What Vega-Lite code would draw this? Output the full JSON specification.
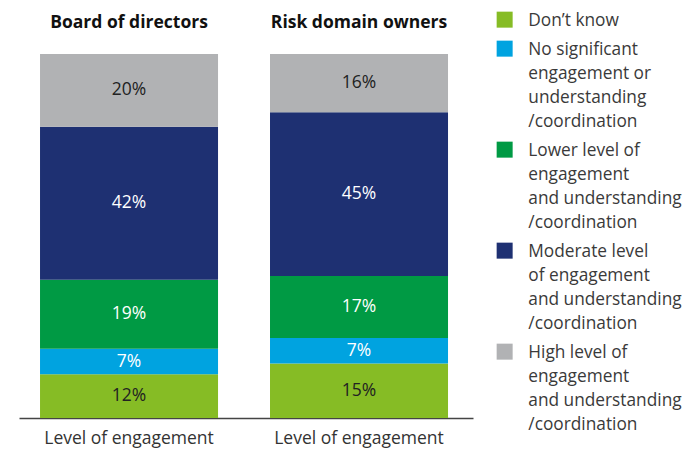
{
  "$schema": "https://vega.github.io/schema/vega-lite/v6.json",
  "width": 454,
  "height": 364,
  "autosize": {"type": "none"},
  "padding": {"left": 19, "top": 54, "right": 214, "bottom": 32},
  "background": "white",
  "config": {
    "view": {"stroke": null},
    "font": "Open Sans",
    "text": {"font": "Open Sans"}
  },
  "data": {
    "values": [
      {"panel": "Board of directors", "category": "Don’t know", "rank": 1, "value": 12},
      {"panel": "Board of directors", "category": "No significant|engagement or|understanding|/coordination", "rank": 2, "value": 7},
      {"panel": "Board of directors", "category": "Lower level of|engagement|and understanding|/coordination", "rank": 3, "value": 19},
      {"panel": "Board of directors", "category": "Moderate level|of engagement|and understanding|/coordination", "rank": 4, "value": 42},
      {"panel": "Board of directors", "category": "High level of|engagement|and understanding|/coordination", "rank": 5, "value": 20},
      {"panel": "Risk domain owners", "category": "Don’t know", "rank": 1, "value": 15},
      {"panel": "Risk domain owners", "category": "No significant|engagement or|understanding|/coordination", "rank": 2, "value": 7},
      {"panel": "Risk domain owners", "category": "Lower level of|engagement|and understanding|/coordination", "rank": 3, "value": 17},
      {"panel": "Risk domain owners", "category": "Moderate level|of engagement|and understanding|/coordination", "rank": 4, "value": 45},
      {"panel": "Risk domain owners", "category": "High level of|engagement|and understanding|/coordination", "rank": 5, "value": 16}
    ]
  },
  "resolve": {"axis": {"x": "independent"}},
  "layer": [
    {
      "mark": {"type": "bar"},
      "encoding": {
        "x": {
          "field": "panel", "type": "nominal",
          "scale": {"domain": ["Board of directors", "Risk domain owners"], "paddingInner": 0.226, "paddingOuter": 0.1, "align": 0.457},
          "axis": {"orient": "top", "title": null, "domain": false, "ticks": false, "tickSize": 0, "labelAngle": 0, "labelPadding": 23, "labelFont": "Open Sans", "labelFontWeight": "bold", "labelFontSize": 17.5, "labelColor": "#111111"}
        },
        "y": {
          "field": "value", "type": "quantitative", "stack": "zero",
          "scale": {"domain": [0, 100], "nice": false},
          "axis": null
        },
        "order": {"field": "rank", "type": "quantitative"},
        "color": {
          "field": "category", "type": "nominal",
          "scale": {
            "domain": ["Don’t know", "No significant|engagement or|understanding|/coordination", "Lower level of|engagement|and understanding|/coordination", "Moderate level|of engagement|and understanding|/coordination", "High level of|engagement|and understanding|/coordination"],
            "range": ["#86bc25", "#00a3e0", "#009a44", "#1e3072", "#b1b2b4"]
          },
          "legend": {
            "orient": "none",
            "legendX": 477,
            "legendY": -43,
            "title": null,
            "padding": 0,
            "symbolType": "square",
            "symbolSize": 256,
            "symbolStrokeWidth": 0,
            "labelOffset": 15,
            "labelFont": "Open Sans",
            "labelFontSize": 17.3,
            "labelColor": "#3a3a3a",
            "labelLimit": 300,
            "labelBaseline": "top",
            "rowPadding": 10,
            "labelExpr": "split(datum.label, '|')",
            "encode": {
              "labels": {"update": {"dy": {"value": -7.8}, "lineHeight": {"value": 24}}}
            }
          }
        }
      }
    },
    {
      "transform": [
        {"window": [{"op": "sum", "field": "value", "as": "cum"}], "groupby": ["panel"], "sort": [{"field": "rank", "order": "ascending"}], "frame": [null, 0]},
        {"calculate": "datum.cum - datum.value / 2", "as": "mid"},
        {"calculate": "datum.value + '%'", "as": "label"}
      ],
      "mark": {"type": "text", "font": "Open Sans", "fontSize": 17.5, "baseline": "middle", "align": "center"},
      "encoding": {
        "x": {
          "field": "panel", "type": "nominal",
          "axis": {"orient": "bottom", "title": null, "domain": true, "domainColor": "#444444", "domainWidth": 1.5, "ticks": false, "tickSize": 0, "labelAngle": 0, "labelPadding": 11, "labelFont": "Open Sans", "labelFontSize": 17.5, "labelColor": "#333333", "labelExpr": "'Level of engagement'"}
        },
        "y": {"field": "mid", "type": "quantitative"},
        "text": {"field": "label", "type": "nominal"},
        "color": {
          "condition": {"test": "datum.rank == 1 || datum.rank == 5", "value": "#222222"},
          "value": "#ffffff"
        }
      }
    }
  ]
}
